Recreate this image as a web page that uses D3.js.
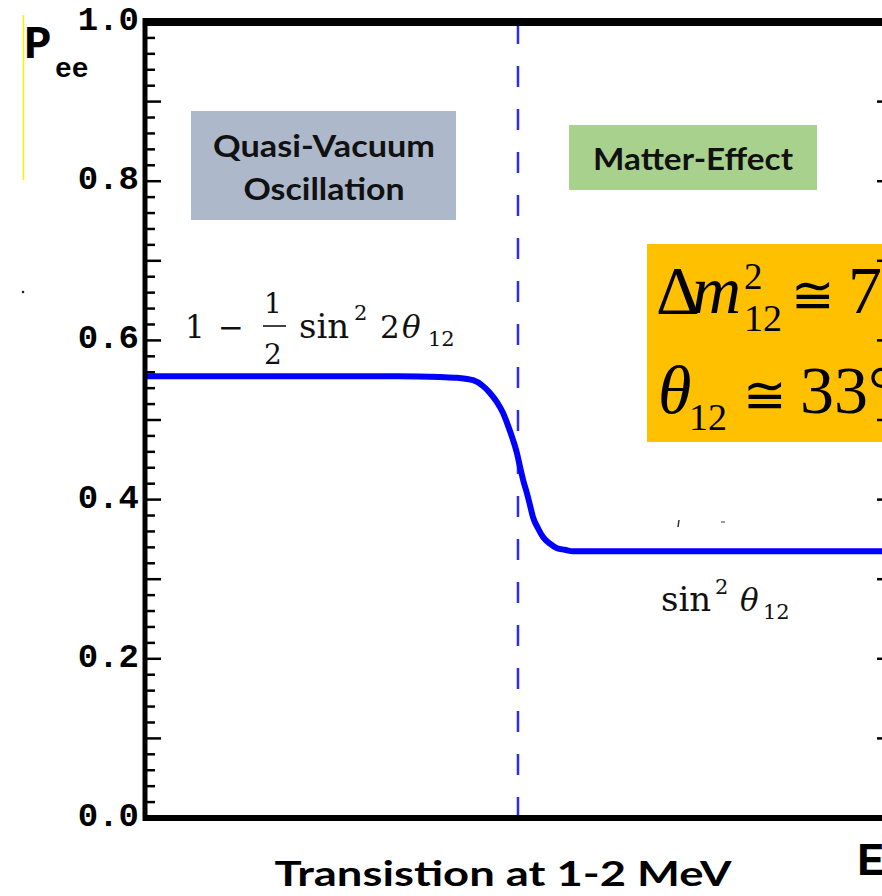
<!DOCTYPE html>
<html>
<head>
<meta charset="utf-8">
<script src="https://cdn.jsdelivr.net/npm/d3@7"></script>
<style>
html,body{margin:0;padding:0;background:#fff;overflow:hidden;}
svg{display:block;}
</style>
</head>
<body>
<svg id="chart" width="882" height="896"></svg>
<script>
// ---- data ----
const energyMeV = [0.1, 0.2, 0.4, 0.6, 0.813, 0.92, 1.028, 1.10, 1.159, 1.215, 1.271, 1.32, 1.365, 1.40, 1.435, 1.47, 1.507, 1.54, 1.573, 1.63, 1.689, 1.77, 1.866, 1.97, 2.09, 2.35, 3, 5, 10, 20];
const pee = [0.555, 0.555, 0.555, 0.555, 0.554, 0.553, 0.550, 0.543, 0.534, 0.523, 0.509, 0.492, 0.475, 0.460, 0.441, 0.423, 0.408, 0.393, 0.378, 0.364, 0.353, 0.345, 0.339, 0.337, 0.335, 0.335, 0.335, 0.335, 0.335, 0.335];
const transitionE = 1.414;
const yTickLabels = ["0.0", "0.2", "0.4", "0.6", "0.8", "1.0"];
const yMinor = d3.range(0, 51).map(d => d / 50);
const regionLabels = ["Quasi-Vacuum", "Oscillation", "Matter-Effect"];
const bottomNote = "Transistion at 1-2 MeV";

(function () {
// ---- layout ----
const svg = d3.select("#chart");
const pL = 145, pR = 891, pT = 22, pB = 818;
const x = d3.scaleLog().domain([0.1, 20]).range([pL, pR]);
const y = d3.scaleLinear().domain([0, 1]).range([pB, pT]);

// stray artifacts from reference
svg.append("line").attr("x1", 23.5).attr("x2", 23.5).attr("y1", 15).attr("y2", 180)
  .attr("stroke", "#ffee00").attr("stroke-width", 1.5);
svg.append("circle").attr("cx", 23).attr("cy", 292).attr("r", 1.3).attr("fill", "#222");
svg.append("line").attr("x1", 679).attr("x2", 678).attr("y1", 520).attr("y2", 527).attr("stroke", "#333").attr("stroke-width", 1.5);
svg.append("line").attr("x1", 721).attr("x2", 725).attr("y1", 522).attr("y2", 522).attr("stroke", "#666").attr("stroke-width", 1.3);

// region boxes
svg.append("rect").attr("x", 191).attr("y", 111).attr("width", 265).attr("height", 109).attr("fill", "#adb9ca");
svg.append("rect").attr("x", 569).attr("y", 125).attr("width", 248).attr("height", 65).attr("fill", "#a9d18e");
svg.append("rect").attr("x", 647).attr("y", 244).attr("width", 260).attr("height", 198).attr("fill", "#ffc000");

const boxFont = "Lato, 'Open Sans', sans-serif";
svg.append("text").attr("x", 324).attr("y", 157).attr("text-anchor", "middle")
  .attr("font-family", boxFont).attr("font-weight", 700).attr("font-size", 31)
  .attr("textLength", 222).attr("lengthAdjust", "spacingAndGlyphs").attr("fill", "#111")
  .text(regionLabels[0]);
svg.append("text").attr("x", 324).attr("y", 200).attr("text-anchor", "middle")
  .attr("font-family", boxFont).attr("font-weight", 700).attr("font-size", 31)
  .attr("textLength", 161).attr("lengthAdjust", "spacingAndGlyphs").attr("fill", "#111")
  .text(regionLabels[1]);
svg.append("text").attr("x", 593).attr("y", 170)
  .attr("font-family", boxFont).attr("font-weight", 700).attr("font-size", 31)
  .attr("textLength", 200).attr("lengthAdjust", "spacingAndGlyphs").attr("fill", "#111")
  .text(regionLabels[2]);

// orange box math
const serif = "'Liberation Serif', 'Times New Roman', serif";
const symFont = "'DejaVu Sans', sans-serif";
const m1 = svg.append("text").attr("font-family", serif).attr("fill", "#000");
m1.append("tspan").attr("x", 656).attr("y", 313).attr("font-size", 68).text("Δ");
m1.append("tspan").attr("x", 692).attr("y", 313).attr("font-size", 68).attr("font-style", "italic").text("m");
m1.append("tspan").attr("x", 744).attr("y", 289).attr("font-size", 37).text("2");
m1.append("tspan").attr("x", 744).attr("y", 331).attr("font-size", 38).text("12");
m1.append("tspan").attr("x", 791).attr("y", 313).attr("font-size", 52).attr("font-family", symFont).text("≅");
m1.append("tspan").attr("x", 848).attr("y", 313).attr("font-size", 68).text("7.5×10⁻⁵ eV²");

const m2 = svg.append("text").attr("font-family", serif).attr("fill", "#000");
m2.append("tspan").attr("x", 658).attr("y", 413).attr("font-size", 68).attr("font-style", "italic").text("θ");
m2.append("tspan").attr("x", 689).attr("y", 430).attr("font-size", 38).text("12");
m2.append("tspan").attr("x", 743).attr("y", 413).attr("font-size", 52).attr("font-family", symFont).text("≅");
m2.append("tspan").attr("x", 800).attr("y", 413).attr("font-size", 68).text("33°");

// dashed transition line
svg.append("line").attr("x1", x(transitionE)).attr("x2", x(transitionE))
  .attr("y1", pT + 1).attr("y2", pB)
  .attr("stroke", "#2a2aff").attr("stroke-width", 2.5).attr("stroke-dasharray", "21,22");

// curve
const pts = energyMeV.map((e, i) => [e, pee[i]]);
const line = d3.line().x(d => x(d[0])).y(d => y(d[1])).curve(d3.curveMonotoneX);
svg.append("path").datum(pts).attr("d", line).attr("fill", "none")
  .attr("stroke", "#0000ff").attr("stroke-width", 6).attr("stroke-linejoin", "round");

// formula labels
const fSerif = "'DejaVu Serif', serif";
const f1 = svg.append("text").attr("font-family", fSerif).attr("fill", "#111");
f1.append("tspan").attr("x", 185).attr("y", 338).attr("font-size", 31).text("1");
f1.append("tspan").attr("x", 218).attr("y", 338).attr("font-size", 31).text("−");
f1.append("tspan").attr("x", 264).attr("y", 313).attr("font-size", 28).text("1");
f1.append("tspan").attr("x", 264).attr("y", 364).attr("font-size", 28).text("2");
f1.append("tspan").attr("x", 299).attr("y", 338).attr("font-size", 34).text("sin");
f1.append("tspan").attr("x", 354).attr("y", 320).attr("font-size", 21).text("2");
f1.append("tspan").attr("x", 380).attr("y", 338).attr("font-size", 31).text("2");
f1.append("tspan").attr("x", 402).attr("y", 338).attr("font-size", 31).attr("font-style", "italic").text("θ");
f1.append("tspan").attr("x", 428).attr("y", 346).attr("font-size", 21).text("12");
svg.append("line").attr("x1", 263).attr("x2", 286).attr("y1", 326).attr("y2", 326)
  .attr("stroke", "#111").attr("stroke-width", 1.6);

const f2 = svg.append("text").attr("font-family", fSerif).attr("fill", "#111");
f2.append("tspan").attr("x", 661).attr("y", 611).attr("font-size", 34).text("sin");
f2.append("tspan").attr("x", 715).attr("y", 594).attr("font-size", 21).text("2");
f2.append("tspan").attr("x", 740).attr("y", 611).attr("font-size", 31).attr("font-style", "italic").text("θ");
f2.append("tspan").attr("x", 763).attr("y", 619).attr("font-size", 21).text("12");

// axes ticks
const tickG = svg.append("g").attr("stroke", "#000").attr("stroke-width", 2.5);
const isMajor = v => Math.abs(v * 10 - Math.round(v * 10)) < 1e-6;
tickG.selectAll("line.l").data(yMinor).join("line").attr("class", "l")
  .attr("x1", pL).attr("x2", d => pL + (isMajor(d) ? 16 : 10))
  .attr("y1", d => y(d)).attr("y2", d => y(d));
tickG.selectAll("line.r").data(yMinor).join("line").attr("class", "r")
  .attr("x1", pR).attr("x2", d => pR - (isMajor(d) ? 14 : 8))
  .attr("y1", d => y(d)).attr("y2", d => y(d));

// frame
svg.append("line").attr("x1", pL).attr("x2", pL).attr("y1", pT - 4).attr("y2", pB + 3)
  .attr("stroke", "#000").attr("stroke-width", 5);
svg.append("line").attr("x1", pL - 2).attr("x2", pR).attr("y1", pT).attr("y2", pT)
  .attr("stroke", "#000").attr("stroke-width", 8);
svg.append("line").attr("x1", pL - 2).attr("x2", pR).attr("y1", pB).attr("y2", pB)
  .attr("stroke", "#000").attr("stroke-width", 6);
svg.append("line").attr("x1", pR).attr("x2", pR).attr("y1", pT).attr("y2", pB)
  .attr("stroke", "#000").attr("stroke-width", 5);

// y tick labels
const mono = "'Liberation Mono', 'Courier New', monospace";
svg.selectAll("text.yl").data(yTickLabels).join("text").attr("class", "yl")
  .attr("x", 139).attr("y", d => y(+d) + 8).attr("text-anchor", "end")
  .attr("font-family", mono).attr("font-weight", 700).attr("font-size", 34).attr("fill", "#000")
  .text(d => d);

// axis titles
const yt = svg.append("text").attr("font-family", mono).attr("font-weight", 700).attr("fill", "#000");
yt.append("tspan").attr("x", 24).attr("y", 58).attr("font-size", 46).text("P");
yt.append("tspan").attr("x", 55).attr("y", 77).attr("font-size", 28).text("ee");

const xt = svg.append("text").attr("font-family", mono).attr("font-weight", 700).attr("fill", "#000");
xt.append("tspan").attr("x", 857).attr("y", 875).attr("font-size", 46).text("E");
xt.append("tspan").attr("font-size", 28).attr("dy", 8).text("ν");

// bottom note
svg.append("text").attr("x", 503).attr("y", 886).attr("text-anchor", "middle")
  .attr("font-family", boxFont).attr("font-weight", 700).attr("font-size", 35)
  .attr("textLength", 457).attr("lengthAdjust", "spacingAndGlyphs").attr("fill", "#000")
  .text(bottomNote);
})();
</script>
</body>
</html>
